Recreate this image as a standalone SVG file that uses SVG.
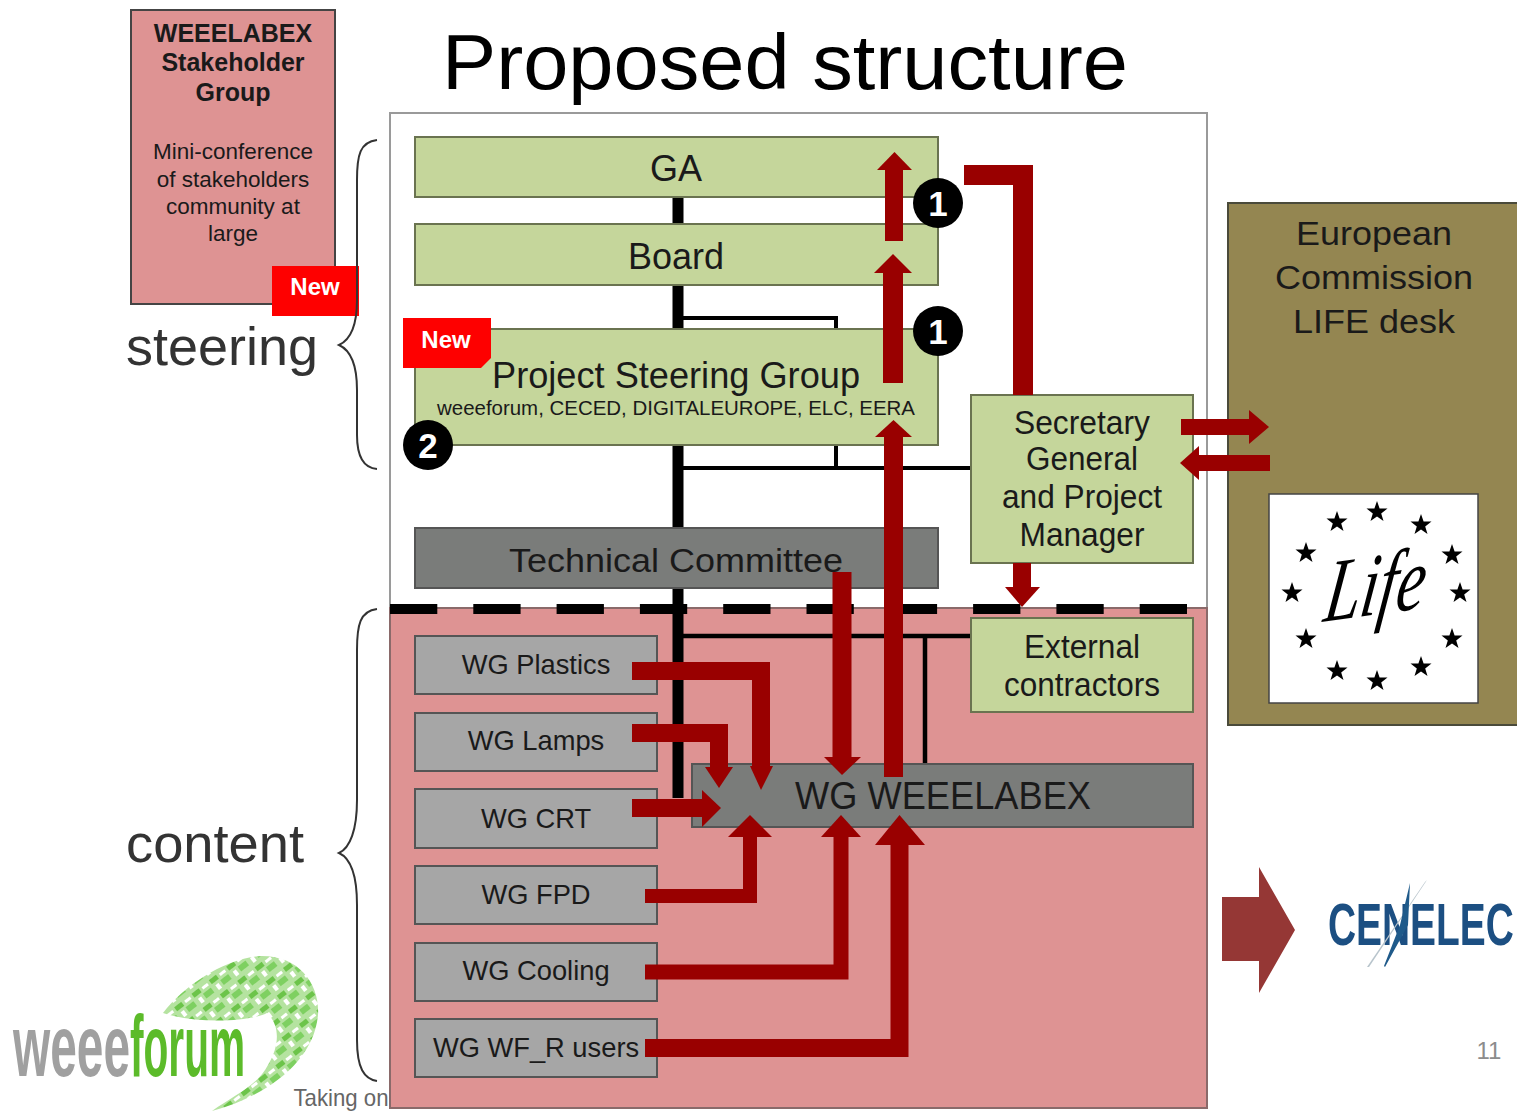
<svg xmlns="http://www.w3.org/2000/svg" xmlns:xlink="http://www.w3.org/1999/xlink" width="1517" height="1112" viewBox="0 0 1517 1112">
<style>
text{font-family:"Liberation Sans",Arial,sans-serif;fill:#1a1a1a;text-anchor:middle}
.g{fill:#c5d69b;stroke:#6a7350;stroke-width:2}
.wg{fill:#a6a6a6;stroke:#555;stroke-width:2}
.dk{fill:#7a7c7a;stroke:#555;stroke-width:2}
.t36{font-size:36px}.t34{font-size:34px}
.l{fill:none;stroke:#000}
.r{fill:none;stroke:#990000;stroke-linejoin:miter}
.a{fill:#990000}
.brace{fill:none;stroke:#333;stroke-width:2}
.badge{fill:#000}
.bt{fill:#fff;font-weight:bold;font-size:35px}
.new{fill:#fe0000}
.nt{fill:#fff;font-weight:bold;font-size:24px}
.wt{font-size:27.300px}
.st{font-size:22.500px}
.sb{font-size:25px;font-weight:bold}
.start{text-anchor:start}
</style>
<defs>
<polygon id="star" points="0,-11 2.6,-3.6 10.5,-3.4 4.2,1.4 6.5,9 0,4.5 -6.5,9 -4.2,1.4 -10.5,-3.4 -2.6,-3.6" fill="#000"/>
<pattern id="mottle" width="22" height="18" patternUnits="userSpaceOnUse" patternTransform="rotate(-38)">
<rect width="22" height="18" fill="#b5e3a0"/>
<rect x="1" y="1" width="9" height="5" fill="#6cc44a"/><rect x="13" y="2" width="7" height="3" fill="#fff"/>
<rect x="3" y="9" width="4" height="6" fill="#fff"/><rect x="10" y="8" width="10" height="6" fill="#7ed061"/>
</pattern>
</defs>

<rect width="1517" height="1112" fill="#fff"/>
<text x="785" y="89" font-size="78" textLength="686" lengthAdjust="spacingAndGlyphs" style="fill:#000">Proposed structure</text>

<g id="frame">
<rect x="390" y="113" width="817" height="495" fill="#fff" stroke="#9a9a9a" stroke-width="2"/>
<rect x="390" y="608" width="817" height="500" fill="#de9393" stroke="#8a6a6a" stroke-width="2"/>
</g>

<g id="connectors-black">
<path class="l" stroke-width="11" d="M678 197V798"/>
<path class="l" stroke-width="4" d="M678 318H836V468M678 468H972"/>
<path class="l" stroke-width="4.500" d="M678 636H972M925 636V765"/>
<path class="l" stroke-width="10" stroke-dasharray="47.300 36" d="M390 609H1190"/>
</g>

<g id="stakeholder">
<rect x="131" y="10" width="204" height="294" fill="#de9393" stroke="#444" stroke-width="2"/>
<text class="sb" x="233" y="42">WEEELABEX</text>
<text class="sb" x="233" y="71">Stakeholder</text>
<text class="sb" x="233" y="101">Group</text>
<text class="st" x="233" y="159">Mini-conference</text>
<text class="st" x="233" y="187">of stakeholders</text>
<text class="st" x="233" y="214">community at</text>
<text class="st" x="233" y="241">large</text>
</g>
<g id="new1"><rect class="new" x="272" y="266" width="87" height="50"/><text class="nt" x="315" y="295">New</text></g>

<g id="steering-label"><text x="222" y="365" font-size="54" textLength="192" lengthAdjust="spacingAndGlyphs" style="fill:#333">steering</text></g>
<g id="content-label"><text x="215" y="862" font-size="54" textLength="178" lengthAdjust="spacingAndGlyphs" style="fill:#333">content</text></g>
<path class="brace" d="M377 140C360 142 357 155 357 180V300C357 325 350 340 339 345C350 350 357 365 357 390V435C357 458 364 468 377 469"/>
<path class="brace" d="M377 609C360 611 357 625 357 650V800C357 830 350 848 339 853C350 858 357 875 357 905V1040C357 1068 364 1079 377 1081"/>

<g id="ga"><rect class="g" x="415" y="137" width="523" height="60"/><text class="t36" x="676" y="181">GA</text></g>
<g id="board"><rect class="g" x="415" y="224" width="523" height="61"/><text class="t36" x="676" y="269">Board</text></g>
<g id="psg"><rect class="g" x="415" y="329" width="523" height="116"/>
<text x="676" y="388" font-size="36" textLength="368" lengthAdjust="spacingAndGlyphs">Project Steering Group</text>
<text x="676" y="415" font-size="19.500" textLength="478" lengthAdjust="spacingAndGlyphs">weeeforum, CECED, DIGITALEUROPE, ELC, EERA</text></g>
<g id="new2"><path class="new" d="M403 318H491V358L481 368H403Z"/><text class="nt" x="446" y="348">New</text></g>
<g id="tc"><rect class="dk" x="415" y="528" width="523" height="60"/><text class="t34" x="676" y="572" textLength="334" lengthAdjust="spacingAndGlyphs">Technical Committee</text></g>

<g id="sg"><rect class="g" x="971" y="395" width="222" height="168"/>
<text class="t34" x="1082" y="434" textLength="136" lengthAdjust="spacingAndGlyphs">Secretary</text>
<text class="t34" x="1082" y="470" textLength="112" lengthAdjust="spacingAndGlyphs">General</text>
<text class="t34" x="1082" y="508" textLength="160" lengthAdjust="spacingAndGlyphs">and Project</text>
<text class="t34" x="1082" y="546" textLength="125" lengthAdjust="spacingAndGlyphs">Manager</text></g>
<g id="ext"><rect class="g" x="971" y="618" width="222" height="94"/>
<text class="t34" x="1082" y="658" textLength="116" lengthAdjust="spacingAndGlyphs">External</text>
<text class="t34" x="1082" y="696" textLength="156" lengthAdjust="spacingAndGlyphs">contractors</text></g>

<g id="wg-plastics"><rect class="wg" x="415" y="636" width="242" height="58"/><text class="wt" x="536" y="674">WG Plastics</text></g>
<g id="wg-lamps"><rect class="wg" x="415" y="713" width="242" height="58"/><text class="wt" x="536" y="750">WG Lamps</text></g>
<g id="wg-crt"><rect class="wg" x="415" y="789" width="242" height="59"/><text class="wt" x="536" y="828">WG CRT</text></g>
<g id="wg-fpd"><rect class="wg" x="415" y="866" width="242" height="58"/><text class="wt" x="536" y="904">WG FPD</text></g>
<g id="wg-cooling"><rect class="wg" x="415" y="943" width="242" height="58"/><text class="wt" x="536" y="980">WG Cooling</text></g>
<g id="wg-wf"><rect class="wg" x="415" y="1019" width="242" height="58"/><text class="wt" x="536" y="1057">WG WF_R users</text></g>
<g id="wg-weeelabex"><rect class="dk" x="692" y="764" width="501" height="63"/><text x="943" y="809" font-size="38" textLength="296" lengthAdjust="spacingAndGlyphs">WG WEEELABEX</text></g>

<g id="ec"><rect x="1228" y="203" width="295" height="522" fill="#948651" stroke="#4a4a3a" stroke-width="2"/>
<text class="t34" x="1374" y="245" textLength="156" lengthAdjust="spacingAndGlyphs">European</text>
<text class="t34" x="1374" y="289" textLength="198" lengthAdjust="spacingAndGlyphs">Commission</text>
<text class="t34" x="1374" y="333" textLength="162" lengthAdjust="spacingAndGlyphs">LIFE desk</text>
</g>
<g id="life"><rect x="1269" y="494" width="209" height="209" fill="#fff" stroke="#444" stroke-width="1.500"/>
<use xlink:href="#star" href="#star" x="1377" y="512"/><use xlink:href="#star" href="#star" x="1337" y="522"/><use xlink:href="#star" href="#star" x="1421" y="525"/>
<use xlink:href="#star" href="#star" x="1306" y="553"/><use xlink:href="#star" href="#star" x="1452" y="555"/><use xlink:href="#star" href="#star" x="1292" y="593"/>
<use xlink:href="#star" href="#star" x="1460" y="593"/><use xlink:href="#star" href="#star" x="1306" y="639"/><use xlink:href="#star" href="#star" x="1452" y="639"/>
<use xlink:href="#star" href="#star" x="1337" y="671"/><use xlink:href="#star" href="#star" x="1421" y="667"/><use xlink:href="#star" href="#star" x="1377" y="681"/>
<text class="start" transform="translate(1322,622) rotate(-8) skewX(-16) scale(.74,1)" font-size="88" style="font-family:'Liberation Serif',serif;font-style:italic;fill:#000">Life</text></g>

<g id="connectors-red">
<path class="r" stroke-width="18" d="M632 671H761V768"/><polygon class="a" points="750,766 773,766 761,790"/>
<path class="r" stroke-width="18" d="M632 733H719V768"/><polygon class="a" points="705,767 733,767 719,788"/>
<path class="r" stroke-width="18" d="M632 808H703"/><polygon class="a" points="702,790 721,808 702,827"/>
<path class="r" stroke-width="14" d="M645 896H750V836"/><polygon class="a" points="728,837 772,837 750,815"/>
<path class="r" stroke-width="15" d="M645 972H841V836"/><polygon class="a" points="821,837 861,837 841,815"/>
<path class="r" stroke-width="18" d="M645 1048H899.500V844"/><polygon class="a" points="875,845 925,845 899.500,815"/>
<path class="r" stroke-width="19" d="M842 572V758"/><polygon class="a" points="824,757 861,757 842,775"/>
<path class="r" stroke-width="19" d="M893.500 777V436"/><polygon class="a" points="875,437 912,437 893.500,420"/>
<path class="r" stroke-width="20" d="M893 383V272"/><polygon class="a" points="874,273 912,273 893,254"/>
<path class="r" stroke-width="18" d="M894 241V169"/><polygon class="a" points="877,170 912,170 894.500,152"/>
<path class="r" stroke-width="20" d="M964 175H1023V395"/>
<path class="r" stroke-width="18" d="M1022 563V590"/><polygon class="a" points="1005,587 1040,587 1022,607"/>
<path class="r" stroke-width="16" d="M1181 427H1250"/><polygon class="a" points="1249,410 1269,427 1249,444"/>
<path class="r" stroke-width="16" d="M1270 463H1198"/><polygon class="a" points="1199,446 1180,463 1199,480"/>
</g>

<g id="badge1a"><circle class="badge" cx="938" cy="203" r="25"/><text class="bt" x="938" y="216">1</text></g>
<g id="badge1b"><circle class="badge" cx="938" cy="331" r="25"/><text class="bt" x="938" y="344">1</text></g>
<g id="badge2"><circle class="badge" cx="428" cy="445" r="25"/><text class="bt" x="428" y="458">2</text></g>

<g id="cenelec-arrow"><polygon points="1222,897 1259,897 1259,867 1295,930 1259,993 1259,961 1222,961" fill="#953735"/></g>
<g id="cenelec-logo">
<text class="start" transform="translate(1328,945) scale(.648,1)" font-size="60" font-weight="bold" style="fill:#1c4f82">CENELEC</text>
<polygon points="1427,880 1369,967 1367,967 1425,882" fill="#b8c4cc"/>
<polygon points="1410,883 1408,925 1385,967 1384,966 1400,925" fill="#1f5a8a"/>
</g>
<text x="1489" y="1059" font-size="24" style="fill:#8c8c8c">11</text>

<g id="weeeforum-logo">
<path d="M163 1013C185 985 225 958 262 956C300 956 320 985 318 1015C314 1060 270 1095 212 1111C235 1095 258 1085 268 1065C280 1045 280 1025 267 1013C250 1022 195 1024 163 1013Z" fill="url(#mottle)"/>
<text class="start" transform="translate(13,1076) scale(.55,1)" font-size="87" font-weight="bold" style="fill:#a0a0a0">weee</text>
<text class="start" transform="translate(130,1076) scale(.467,1)" font-size="87" font-weight="bold" style="fill:#5cbb2a">forum</text>
</g>
<text x="341" y="1106" font-size="24" textLength="95" lengthAdjust="spacingAndGlyphs" style="fill:#666">Taking on</text>
</svg>
